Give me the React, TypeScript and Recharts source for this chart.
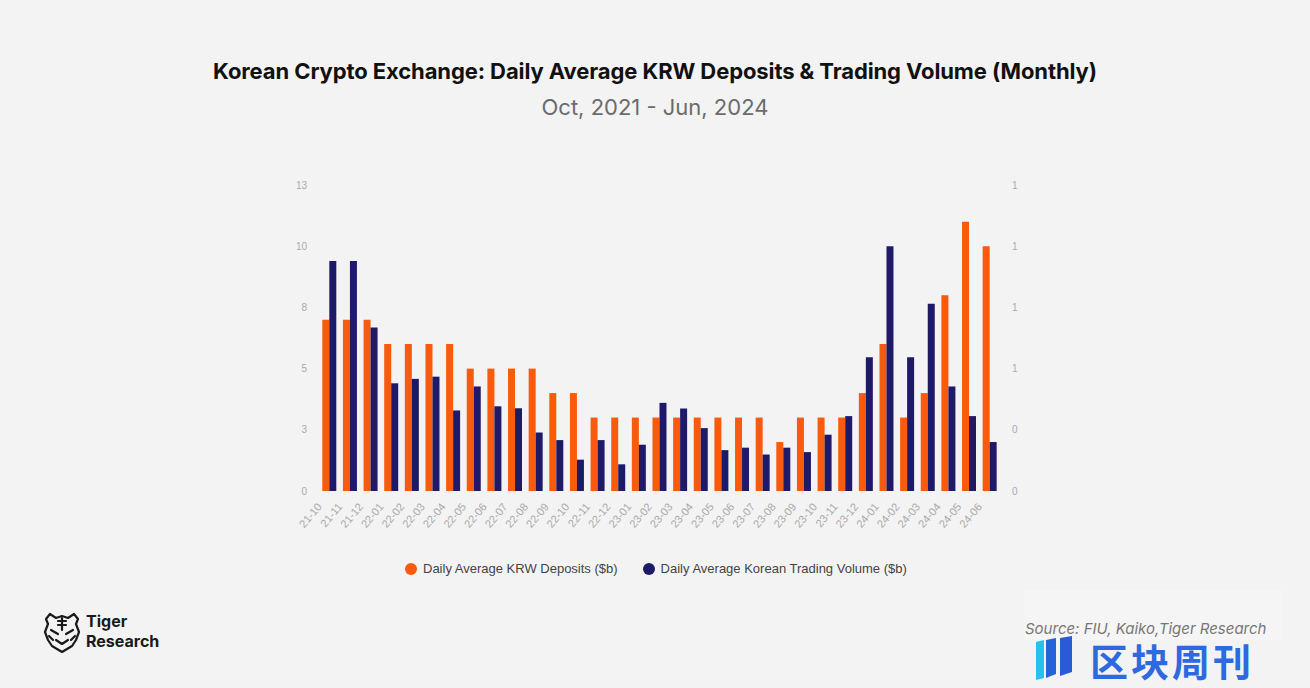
import { BarChart, Bar, XAxis, YAxis } from "recharts";

const months = [
  "21-10", "21-11", "21-12",
  "22-01", "22-02", "22-03", "22-04", "22-05", "22-06", "22-07", "22-08", "22-09", "22-10", "22-11", "22-12",
  "23-01", "23-02", "23-03", "23-04", "23-05", "23-06", "23-07", "23-08", "23-09", "23-10", "23-11", "23-12",
  "24-01", "24-02", "24-03", "24-04", "24-05", "24-06",
];

// left axis
const krwDeposits = [
  7, 7, 7,
  6, 6, 6, 6, 5, 5, 5, 5, 4, 4, 3, 3,
  3, 3, 3, 3, 3, 3, 3, 2, 3, 3, 3, 4,
  6, 3, 4, 8, 11, 10,
];

// right axis
const tradingVolume = [
  0.94, 0.94, 0.668,
  0.44, 0.458, 0.467, 0.329, 0.427, 0.346, 0.338, 0.239, 0.208, 0.128, 0.208, 0.109,
  0.189, 0.36, 0.337, 0.257, 0.167, 0.177, 0.149, 0.177, 0.159, 0.23, 0.306, 0.546,
  1.0, 0.546, 0.765, 0.427, 0.306, 0.2,
];

const leftTicks = [0, 2.5, 5, 7.5, 10, 12.5];
const rightTicks = [0, 0.25, 0.5, 0.75, 1, 1.25];

const ORANGE = "#fa5a0c";
const NAVY = "#1f1a68";
const BG = "#f3f3f3";

const data = months.map((m, i) => ({ month: m, deposits: krwDeposits[i], volume: tradingVolume[i] }));

function MonthTick({ x, y, payload }: any) {
  const ax = x - 7;
  const ay = y + 8;
  return (
    <text
      x={ax}
      y={ay}
      transform={`rotate(-50, ${ax}, ${ay})`}
      textAnchor="end"
      fontSize={11}
      fill="#aaa"
      fontFamily="'Liberation Sans', Arial, sans-serif"
    >
      {payload.value}
    </text>
  );
}

function TigerLogo() {
  return (
    <svg width={40} height={44} viewBox="0 0 40 44" style={{ position: "absolute", left: 42, top: 610 }}>
      <g fill="none" stroke="#1a1a1a" strokeWidth={2.2} strokeLinejoin="round" strokeLinecap="round">
        <path d="M8 4 L4 9 L6 14 L3 22 L6 30 L10 36 L20 42 L30 36 L34 30 L37 22 L34 14 L36 9 L32 4 L26 8 L20 6 L14 8 Z" />
        <path d="M20 8 L20 20 M16 11 L24 11 M16 15 L24 15" />
        <path d="M9 20 L16 24 M31 20 L24 24" />
        <path d="M14 30 L20 34 L26 30" />
        <path d="M7 26 L11 30 M33 26 L29 30" />
      </g>
    </svg>
  );
}

export default function App() {
  return (
    <div
      style={{
        position: "absolute",
        left: 0,
        top: 0,
        width: 1310,
        height: 688,
        background: BG,
        overflow: "hidden",
        fontFamily: "Inter, 'Noto Sans', sans-serif",
      }}
    >
      <div style={{ position: "absolute", top: 58, left: 0, width: 1310, textAlign: "center", fontSize: 22, fontWeight: 700, color: "#111", letterSpacing: -0.1 }}>
        Korean Crypto Exchange: Daily Average KRW Deposits &amp; Trading Volume (Monthly)
      </div>
      <div style={{ position: "absolute", top: 94, left: 0, width: 1310, textAlign: "center", fontSize: 22, fontWeight: 400, color: "#6b6b6b" }}>
        Oct, 2021 - Jun, 2024
      </div>

      <div style={{ position: "absolute", left: 0, top: 0 }}>
        <BarChart
          width={1310}
          height={688}
          data={data}
          margin={{ top: 185, right: 280, bottom: 157, left: 289 }}
          barCategoryGap="16%"
          barGap={0}
        >
          <XAxis dataKey="month" interval={0} axisLine={false} tickLine={false} tick={<MonthTick />} height={40} />
          <YAxis
            yAxisId="left"
            domain={[0, 12.5]}
            ticks={leftTicks}
            tickFormatter={(v: number) => String(Math.round(v))}
            axisLine={false}
            tickLine={false}
            tickMargin={6}
            width={30}
            tick={{ fontSize: 10, fill: "#aaa", fontFamily: "'Liberation Sans', Arial, sans-serif" }}
          />
          <YAxis
            yAxisId="right"
            orientation="right"
            domain={[0, 1.25]}
            ticks={rightTicks}
            tickFormatter={(v: number) => String(Math.round(v))}
            axisLine={false}
            tickLine={false}
            tickMargin={6}
            width={30}
            tick={{ fontSize: 10, fill: "#aaa", fontFamily: "'Liberation Sans', Arial, sans-serif", textAnchor: "start" }}
          />
          <Bar yAxisId="left" dataKey="deposits" fill={ORANGE} isAnimationActive={false} />
          <Bar yAxisId="right" dataKey="volume" fill={NAVY} isAnimationActive={false} />
        </BarChart>
      </div>

      <div
        style={{
          position: "absolute",
          top: 561,
          left: 405,
          display: "flex",
          alignItems: "center",
          fontFamily: "'Liberation Sans', Arial, sans-serif",
          fontSize: 13,
          color: "#444",
        }}
      >
        <span style={{ width: 12, height: 12, borderRadius: 6, background: ORANGE, display: "inline-block", marginRight: 6 }} />
        <span>Daily Average KRW Deposits ($b)</span>
        <span style={{ width: 12, height: 12, borderRadius: 6, background: NAVY, display: "inline-block", marginLeft: 25, marginRight: 6 }} />
        <span>Daily Average Korean Trading Volume ($b)</span>
      </div>

      <TigerLogo />
      <div style={{ position: "absolute", left: 86, top: 613, fontSize: 16, fontWeight: 700, color: "#1a1a1a", lineHeight: "16px" }}>
        Tiger
      </div>
      <div style={{ position: "absolute", left: 86, top: 633, fontSize: 16, fontWeight: 700, color: "#1a1a1a", lineHeight: "16px" }}>
        Research
      </div>

      <div style={{ position: "absolute", left: 1024, top: 590, width: 258, height: 50, background: "rgba(255,255,255,0.18)" }} />
      <div style={{ position: "absolute", left: 1025, top: 621, fontSize: 15, lineHeight: "15px", fontStyle: "italic", color: "#777", whiteSpace: "nowrap" }}>
        Source: FIU, Kaiko,Tiger Research
      </div>

      <svg width={50} height={50} style={{ position: "absolute", left: 1032, top: 634 }}>
        <polygon points="4,8 12,6 12,44 4,46" fill="#22c4ee" />
        <polygon points="14,6 24,4 24,40 14,44" fill="#2563d8" />
        <polygon points="28,4 40,2 40,38 28,42" fill="#2a5bd6" />
      </svg>
      <div
        style={{
          position: "absolute",
          left: 1090,
          top: 641,
          fontSize: 38,
          fontWeight: 700,
          color: "#2d6ae0",
          fontFamily: "'Noto Sans CJK SC', sans-serif",
          letterSpacing: 3,
          lineHeight: "38px",
          whiteSpace: "nowrap",
        }}
      >
        区块周刊
      </div>
    </div>
  );
}
